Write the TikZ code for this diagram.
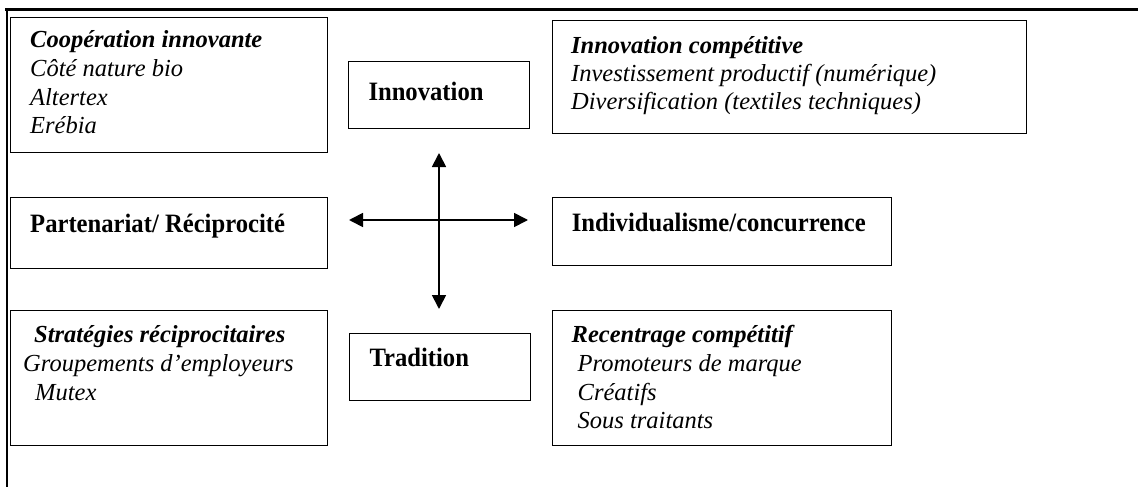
\documentclass[tikz,border=0pt]{standalone}
\usepackage{fontspec}
\setmainfont{Liberation Serif}
\newfontfamily\labelfont[FakeStretch=0.93]{Liberation Serif}
\usetikzlibrary{arrows.meta}

\begin{document}
\begin{tikzpicture}[x=1pt,y=-1pt,
  box/.style={draw, line width=1.3pt, inner sep=0pt, anchor=north west},
  txt/.style={anchor=base west, inner sep=0pt, font=\fontsize{24.5}{28}\selectfont\itshape},
  head/.style={anchor=base west, inner sep=0pt, font=\fontsize{24.5}{28}\selectfont\bfseries\itshape},
  lbl/.style={anchor=base west, inner sep=0pt, font=\labelfont\fontsize{26.5}{30}\selectfont\bfseries},
  axisarrow/.style={line width=1.7pt, {Triangle[length=14pt,width=14pt]}-{Triangle[length=14pt,width=14pt]}}
]
\useasboundingbox (0,0) rectangle (1138,487);

% page frame: top rule and left rule
\draw[line width=2.6pt] (5,9.7) -- (1138,9.7);
\draw[line width=1.6pt] (6.7,9) -- (6.7,487);

% boxes
\node[box, minimum width=317, minimum height=135] (coop)   at (10,17) {};
\node[box, minimum width=180.5, minimum height=67] (innov)  at (348,61) {};
\node[box, minimum width=474.5, minimum height=113] (compinn) at (551.5,20) {};
\node[box, minimum width=317, minimum height=71]  (part)   at (10,197) {};
\node[box, minimum width=339.5, minimum height=68] (indiv)  at (551.5,197) {};
\node[box, minimum width=317, minimum height=135] (strat)  at (10,310) {};
\node[box, minimum width=180.5, minimum height=67] (trad)   at (349,333) {};
\node[box, minimum width=339, minimum height=135] (recent) at (552,310) {};

% texts of the top left box
\node[head] (coop1) at (30,47.7)  {Coopération innovante};
\node[txt]  (coop2) at (30,76.5)  {Côté nature bio};
\node[txt]  (coop3) at (30,105)   {Altertex};
\node[txt]  (coop4) at (30,133.5) {Erébia};

% texts of the top right box
\node[head] (comp1) at (571,53.3) {Innovation compétitive};
\node[txt]  (comp2) at (571,81.7) {Investissement productif (numérique)};
\node[txt]  (comp3) at (571,110)  {Diversification (textiles techniques)};

% axis labels
\node[lbl] (innovt) at (368.3,100)   {Innovation};
\node[lbl] (partt)  at (30,232.7)    {Partenariat/ Réciprocité};
\node[lbl] (indivt) at (571.7,231.7) {Individualisme/concurrence};
\node[lbl] (tradt)  at (369.3,366.7) {Tradition};

% texts of the bottom left box
\node[head] (strat1) at (34,342.5)  {Stratégies réciprocitaires};
\node[txt]  (strat2) at (23,371.5)  {Groupements d’employeurs};
\node[txt]  (strat3) at (35,400.5)  {Mutex};

% texts of the bottom right box
\node[head] (rec1) at (571.5,342.7) {Recentrage compétitif};
\node[txt]  (rec2) at (577.5,371.7) {Promoteurs de marque};
\node[txt]  (rec3) at (577.5,400)   {Créatifs};
\node[txt]  (rec4) at (577.5,428.3) {Sous traitants};

% crossing double arrows
\coordinate (up)    at (439,153);
\coordinate (down)  at (439,309);
\coordinate (west)  at (349,220);
\coordinate (east)  at (528,220);
\draw[axisarrow] (up) -- (down);
\draw[axisarrow] (west) -- (east);
\end{tikzpicture}
\end{document}
